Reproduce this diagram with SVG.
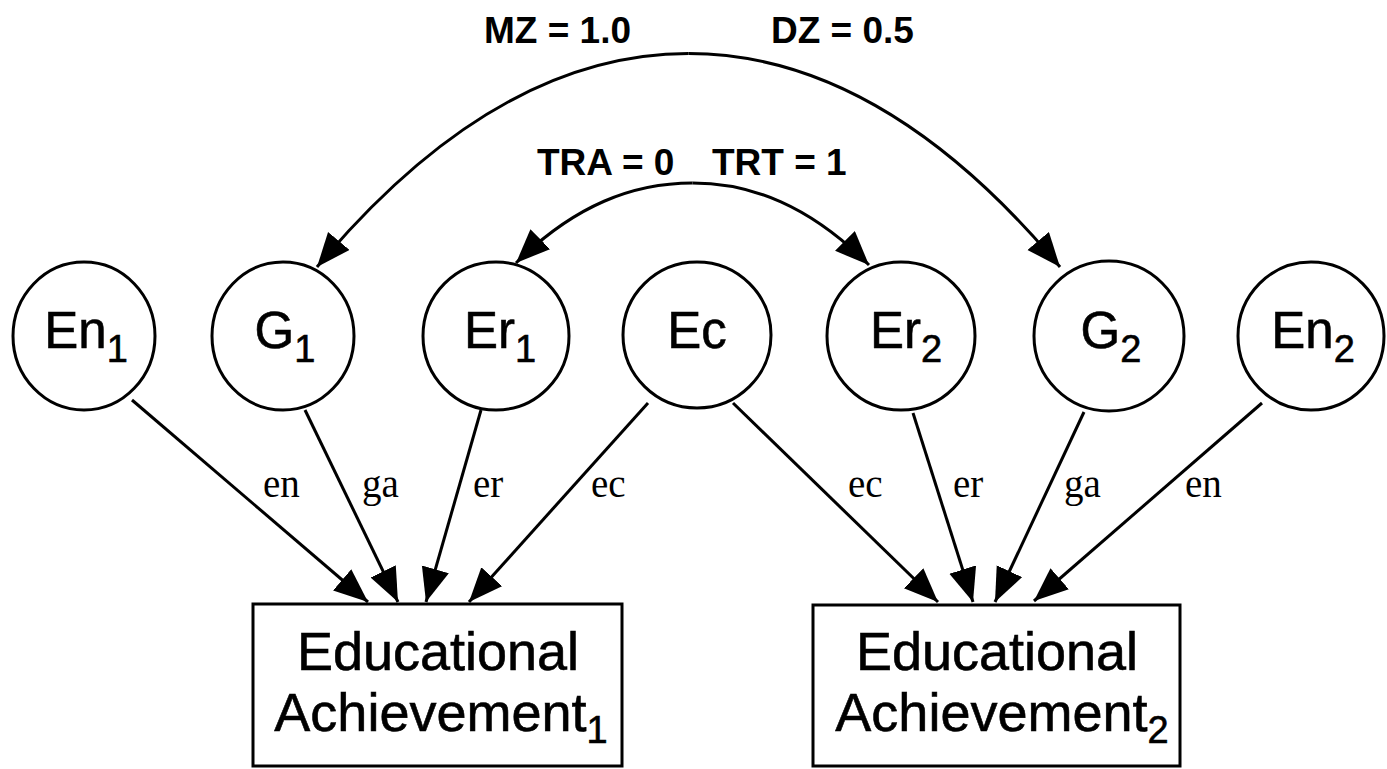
<svg xmlns="http://www.w3.org/2000/svg" width="1387" height="769" viewBox="0 0 1387 769">
<style>
.node ellipse{fill:#fff;stroke:#000;stroke-width:3}
.node rect{fill:#fff;stroke:#000;stroke-width:3}
.nt{font-family:"Liberation Sans",Arial,sans-serif;font-size:51px;fill:#000;text-anchor:middle;stroke:#000;stroke-width:0.6}
.bt{font-family:"Liberation Sans",Arial,sans-serif;font-size:54px;fill:#000;text-anchor:middle;stroke:#000;stroke-width:0.6}
.sub{font-size:38px}
.lbl{font-family:"Liberation Serif","Times New Roman",serif;font-size:39px;fill:#000}
.top{font-family:"Liberation Sans",Arial,sans-serif;font-size:37px;font-weight:bold;fill:#000}
.conn{fill:none;stroke:#000;stroke-width:3}
</style>
<defs>
<marker id="ah" markerUnits="userSpaceOnUse" markerWidth="36" markerHeight="30" refX="34" refY="14" orient="auto">
<path d="M0,0 L34,14 L0,28 z" fill="#000"/>
</marker>
</defs>
<g id="connectors">
<path class="conn" d="M688.5,53.5 C565,53.5 440,120 317,267" marker-end="url(#ah)"/>
<path class="conn" d="M688.5,53.5 C812,53.5 937,120 1060,267" marker-end="url(#ah)"/>
<path class="conn" d="M692.5,183 C633,183 575,205 516,263" marker-end="url(#ah)"/>
<path class="conn" d="M692.5,183 C752,183 810,206 869,265" marker-end="url(#ah)"/>
<line class="conn" x1="132" y1="400" x2="368" y2="602" marker-end="url(#ah)"/>
<line class="conn" x1="305" y1="410" x2="398" y2="602" marker-end="url(#ah)"/>
<line class="conn" x1="481" y1="410" x2="426" y2="602" marker-end="url(#ah)"/>
<line class="conn" x1="648" y1="403" x2="469" y2="602" marker-end="url(#ah)"/>
<line class="conn" x1="733" y1="403" x2="938" y2="602" marker-end="url(#ah)"/>
<line class="conn" x1="913" y1="413" x2="973" y2="602" marker-end="url(#ah)"/>
<line class="conn" x1="1084" y1="412" x2="995" y2="602" marker-end="url(#ah)"/>
<line class="conn" x1="1262" y1="403" x2="1034" y2="601" marker-end="url(#ah)"/>
<text class="lbl" x="263" y="497">en</text>
<text class="lbl" x="362" y="497">ga</text>
<text class="lbl" x="473" y="497">er</text>
<text class="lbl" x="591" y="497">ec</text>
<text class="lbl" x="848" y="497">ec</text>
<text class="lbl" x="953" y="497">er</text>
<text class="lbl" x="1064" y="497">ga</text>
<text class="lbl" x="1185" y="497">en</text>
<text class="top" x="484" y="43">MZ = 1.0</text>
<text class="top" x="771" y="43">DZ = 0.5</text>
<text class="top" x="537" y="175">TRA = 0</text>
<text class="top" x="712" y="175">TRT = 1</text>
</g>
<g id="En1" class="node"><ellipse cx="84" cy="336" rx="71" ry="74"/><text class="nt" x="86" y="348">En<tspan class="sub" dy="14">1</tspan></text></g>
<g id="G1" class="node"><ellipse cx="283" cy="336" rx="71" ry="74"/><text class="nt" x="285" y="348">G<tspan class="sub" dy="14">1</tspan></text></g>
<g id="Er1" class="node"><ellipse cx="496" cy="336" rx="73" ry="74"/><text class="nt" x="500" y="348">Er<tspan class="sub" dy="14">1</tspan></text></g>
<g id="Ec" class="node"><ellipse cx="697" cy="335" rx="74" ry="73"/><text class="nt" x="697" y="348">Ec</text></g>
<g id="Er2" class="node"><ellipse cx="901" cy="336" rx="74" ry="74"/><text class="nt" x="906" y="348">Er<tspan class="sub" dy="14">2</tspan></text></g>
<g id="G2" class="node"><ellipse cx="1109" cy="336" rx="75" ry="75"/><text class="nt" x="1111" y="348">G<tspan class="sub" dy="14">2</tspan></text></g>
<g id="En2" class="node"><ellipse cx="1311" cy="336" rx="73" ry="74"/><text class="nt" x="1313" y="348">En<tspan class="sub" dy="14">2</tspan></text></g>
<g id="EA1" class="node"><rect x="253" y="604" width="369" height="162"/><text class="bt" x="438" y="670">Educational</text><text class="bt" x="441" y="731">Achievement<tspan class="sub" dy="12">1</tspan></text></g>
<g id="EA2" class="node"><rect x="813" y="605" width="367" height="161"/><text class="bt" x="997" y="670">Educational</text><text class="bt" x="1002" y="731">Achievement<tspan class="sub" dy="12">2</tspan></text></g>
</svg>
